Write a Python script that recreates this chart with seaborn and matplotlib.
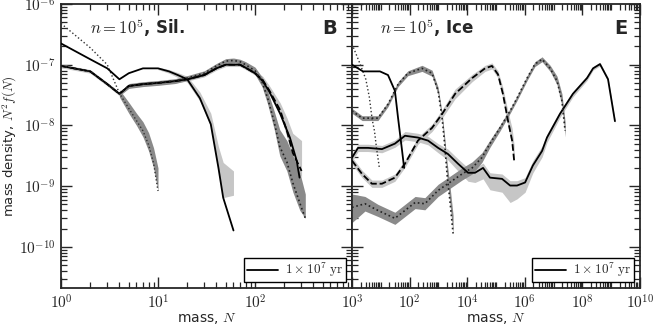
import numpy as np
import pandas as pd
import matplotlib
matplotlib.use("Agg")
import matplotlib.pyplot as plt
import seaborn as sns
from matplotlib.ticker import LogLocator, FixedLocator, FuncFormatter, NullFormatter

# ---------------- data (log10 of mass density) ----------------
# Left panel (silicates), mass N
s1_N = [1, 2, 3, 4, 5, 6, 7, 8, 9, 10]
s1_v = [-6.32, -6.72, -7.00, -7.47, -7.72, -7.92, -8.09, -8.32, -8.62, -9.08]
s1_hi = [0, 0, 0, 0.06, 0.10, 0.12, 0.15, 0.20, 0.25, 0.38]
s1_lo = [0, 0, 0, 0.06, 0.08, 0.08, 0.10, 0.10, 0.08, 0.00]

s2_N = [1, 2, 3, 4, 5, 7, 10, 13, 16, 20, 27, 35, 42, 47, 60]
s2_v = [-6.65, -6.91, -7.06, -7.24, -7.14, -7.06, -7.06, -7.11, -7.17, -7.24, -7.55, -7.98, -8.70, -9.19, -9.73]
s2_hi = [0, 0, 0, 0, 0, 0, 0.02, 0.03, 0.04, 0.05, 0.10, 0.18, 0.35, 0.58, 0.98]
s2_lo = [0, 0, 0, 0, 0, 0, 0.02, 0.03, 0.04, 0.05, 0.05, 0.04, 0.03, 0.00, -0.58]

peak_N = [1, 2, 3, 4, 5, 7, 10, 15, 20, 30, 40, 50, 60, 70, 80, 100]
peak_v = [-7.02, -7.11, -7.32, -7.48, -7.35, -7.32, -7.30, -7.27, -7.24, -7.17, -7.06, -7.00, -7.00, -7.00, -7.05, -7.14]

c_N = [1, 2, 3, 4, 5, 7, 10, 15, 20, 30, 40, 50, 60, 70, 80, 100, 118, 135, 158, 180, 213, 246, 290, 330]
c_v = [-7.02, -7.11, -7.32, -7.48, -7.35, -7.32, -7.30, -7.27, -7.22, -7.14, -7.02, -6.94, -6.93, -6.95, -7.00, -7.10,
       -7.28, -7.55, -7.95, -8.35, -8.60, -8.95, -9.28, -9.53]
c_hi = [0, 0, 0, 0.03, 0.04, 0.04, 0.04, 0.04, 0.04, 0.04, 0.04, 0.04, 0.04, 0.04, 0.05, 0.06,
        0.08, 0.12, 0.18, 0.28, 0.35, 0.45, 0.50, 0.40]
c_lo = [0, 0, 0, 0.03, 0.04, 0.04, 0.04, 0.04, 0.04, 0.04, 0.04, 0.04, 0.04, 0.04, 0.05, 0.06,
        0.08, 0.10, 0.12, 0.15, 0.15, 0.15, 0.12, 0.00]

d_N = peak_N + [120, 139, 182, 229, 269, 288]
d_v = peak_v + [-7.27, -7.43, -7.81, -8.20, -8.58, -8.86]

e_N = peak_N + [120, 140, 182, 214, 245, 302]
e_v = peak_v + [-7.25, -7.42, -7.75, -8.10, -8.45, -8.75]
e_hi = [0.03] * 16 + [0.06, 0.08, 0.12, 0.22, 0.32, 0.50]
e_lo = [0.03] * 16 + [0.05, 0.06, 0.08, 0.10, 0.12, 0.10]

# Right panel (ice), log10 of mass N
r1_x = [0, 0.30, 0.48, 0.60, 0.70, 0.78, 0.85, 0.90, 0.95]
r1_v = [-6.66, -7.01, -7.24, -7.53, -7.90, -8.09, -8.37, -8.53, -8.70]

r2_x = [0, 0.38, 0.97, 1.25, 1.49, 1.60, 1.74, 1.81]
r2_v = [-7.00, -7.11, -7.11, -7.17, -7.43, -7.88, -8.42, -8.70]

r3_x = [0, 0.35, 0.90, 1.25, 1.60, 1.94, 2.43, 2.78, 2.99, 3.13, 3.23, 3.30, 3.40, 3.51]
r3_v = [-7.76, -7.88, -7.88, -7.65, -7.32, -7.14, -7.06, -7.14, -7.43, -7.88, -8.37, -8.80, -9.24, -9.78]
r3_hi = [0.04, 0.04, 0.04, 0.04, 0.04, 0.04, 0.05, 0.05, 0.06, 0.08, 0.12, 0.20, 0.25, 0.30]
r3_lo = [0.04, 0.04, 0.04, 0.04, 0.04, 0.04, 0.05, 0.05, 0.06, 0.06, 0.06, 0.06, 0.05, 0.00]

r4_x = [0, 0.35, 0.69, 1.04, 1.49, 1.84, 2.29, 2.78, 3.13, 3.58, 4.17, 4.62, 4.86, 5.07, 5.24, 5.42, 5.56, 5.63]
r4_v = [-8.58, -8.80, -8.96, -8.96, -8.86, -8.63, -8.25, -8.04, -7.81, -7.48, -7.22, -7.06, -7.02, -7.16, -7.48,
        -7.93, -8.25, -8.58]
r4_hi = [0.06, 0.06, 0.06, 0.06, 0.06, 0.06, 0.06, 0.06, 0.07, 0.08, 0.06, 0.05, 0.05, 0.06, 0.10, 0.15, 0.20, 0.25]
r4_lo = [0.06, 0.06, 0.06, 0.06, 0.06, 0.06, 0.06, 0.06, 0.07, 0.08, 0.06, 0.05, 0.05, 0.06, 0.08, 0.10, 0.10, 0.00]

r5_x = [0, 0.21, 0.56, 1.04, 1.49, 1.84, 2.29, 2.64, 2.99, 3.33, 3.68, 4.03, 4.27, 4.55, 4.79, 5.21, 5.49, 5.73,
        6.01, 6.28, 6.60, 6.77, 7.22, 7.67, 8.16, 8.37, 8.61, 8.89, 9.13]
r5_v = [-8.53, -8.37, -8.37, -8.39, -8.30, -8.17, -8.20, -8.25, -8.37, -8.47, -8.63, -8.78, -8.78, -8.70, -8.86,
        -8.88, -8.99, -8.99, -8.94, -8.66, -8.42, -8.20, -7.81, -7.48, -7.22, -7.06, -6.99, -7.24, -7.93]
r5_hi = [0.06, 0.06, 0.06, 0.06, 0.06, 0.07, 0.07, 0.07, 0.07, 0.08, 0.08, 0.08, 0.08, 0.08, 0.08,
         0.08, 0.08, 0.08, 0.08, 0.08, 0.08, 0.06, 0.05, 0.04, 0.04, 0.03, 0.03, 0.03, 0.03]
r5_lo = [0.06, 0.06, 0.06, 0.06, 0.06, 0.07, 0.07, 0.07, 0.08, 0.10, 0.12, 0.14, 0.16, 0.18, 0.20,
         0.22, 0.28, 0.22, 0.16, 0.12, 0.10, 0.08, 0.06, 0.05, 0.04, 0.03, 0.03, 0.03, 0.03]

r6_x = [0, 0.45, 0.90, 1.49, 1.84, 2.19, 2.53, 2.99, 3.33, 3.82, 4.17, 4.51, 4.79, 5.14, 5.49, 5.73, 6.08, 6.35,
        6.60, 6.88, 7.12, 7.29, 7.40]
r6_v = [-9.35, -9.29, -9.40, -9.53, -9.40, -9.27, -9.29, -9.07, -8.96, -8.80, -8.70, -8.53, -8.30, -8.04, -7.76,
        -7.55, -7.22, -6.99, -6.91, -7.06, -7.27, -7.60, -8.09]
r6_hi = [0.22, 0.12, 0.10, 0.10, 0.10, 0.10, 0.10, 0.10, 0.10, 0.10, 0.10, 0.08, 0.06, 0.05, 0.04, 0.04, 0.04,
         0.04, 0.04, 0.05, 0.08, 0.12, 0.15]
r6_lo = [0.25, 0.12, 0.10, 0.10, 0.10, 0.10, 0.10, 0.10, 0.10, 0.10, 0.10, 0.08, 0.06, 0.05, 0.04, 0.04, 0.04,
         0.04, 0.04, 0.05, 0.06, 0.08, 0.10]

y_ticks = [1e-10, 1e-9, 1e-8, 1e-7, 1e-6]
xL_ticks = [1e0, 1e1, 1e2, 1e3]
xR_ticks = [1e0, 1e2, 1e4, 1e6, 1e8, 1e10]

legend_label = r"$1\times10^{7}\ \mathrm{yr}$"
left_title = r"$n=\mathbf{10^5}$, Sil."
right_title = r"$n=\mathbf{10^5}$, Ice"

# ---------------- style ----------------
sns.set_style("ticks")
plt.rcParams['font.family'] = ['DejaVu Sans']
plt.rcParams['mathtext.fontset'] = 'cm'
plt.rcParams['axes.linewidth'] = 1.3

DARK = '#8a8a8a'
LIGHT = '#c6c6c6'

fig = plt.figure(figsize=(6.54, 3.27), dpi=100)
axL = fig.add_axes([61 / 654, 1 - 288 / 327, 291 / 654, 284 / 327])
axR = fig.add_axes([352 / 654, 1 - 288 / 327, 288 / 654, 284 / 327])


def band(ax, x, v, lo, hi, color):
    x = np.asarray(x, float)
    v = np.asarray(v, float)
    lo = np.asarray(lo, float)
    hi = np.asarray(hi, float)
    idx = np.where((lo + hi) > 0)[0]
    if len(idx) == 0:
        return
    s = idx[0]
    ax.fill_between(x[s:], 10 ** (v[s:] - lo[s:]), 10 ** (v[s:] + hi[s:]), color=color, lw=0, zorder=1)


def line(ax, x, v, ls='-', lw=1.2, color='black', label=None, z=3):
    df = pd.DataFrame({'x': np.asarray(x, float), 'y': 10 ** np.asarray(v, float)})
    sns.lineplot(data=df, x='x', y='y', ax=ax, linestyle=ls, lw=lw, color=color,
                 sort=False, estimator=None, label=label, zorder=z, legend=False)


for ax in (axL, axR):
    ax.set_xscale('log')
    ax.set_yscale('log')

# ---- left panel ----
band(axL, s1_N, s1_v, s1_lo, s1_hi, DARK)
band(axL, s2_N, s2_v, s2_lo, s2_hi, LIGHT)
band(axL, e_N, e_v, e_lo, e_hi, LIGHT)
band(axL, c_N, c_v, c_lo, c_hi, DARK)
line(axL, s1_N, s1_v, ls=':', lw=1.0, color='#333333')
line(axL, s2_N, s2_v, ls='-', lw=1.3, label=legend_label)
line(axL, d_N, d_v, ls='-', lw=1.3)
line(axL, e_N, e_v, ls='--', lw=1.3)
line(axL, c_N, c_v, ls=':', lw=1.2, color='#222222')

# ---- right panel ----
rx = lambda a: 10 ** np.asarray(a, float)
band(axR, rx(r3_x), r3_v, r3_lo, r3_hi, DARK)
band(axR, rx(r4_x), r4_v, r4_lo, r4_hi, LIGHT)
band(axR, rx(r5_x), r5_v, r5_lo, r5_hi, LIGHT)
band(axR, rx(r6_x), r6_v, r6_lo, r6_hi, DARK)
line(axR, rx(r1_x), r1_v, ls=':', lw=1.0, color='#333333')
line(axR, rx(r2_x), r2_v, ls='-', lw=1.3)
line(axR, rx(r3_x), r3_v, ls=':', lw=1.2, color='#222222')
line(axR, rx(r4_x), r4_v, ls='--', lw=1.3)
line(axR, rx(r5_x), r5_v, ls='-', lw=1.3, label=legend_label)
line(axR, rx(r6_x), r6_v, ls=':', lw=1.2, color='#222222')

# ---- axes formatting ----
pow_fmt = FuncFormatter(lambda v, p: r"$10^{%d}$" % int(round(np.log10(v))))
for ax in (axL, axR):
    ax.set_ylim(2.1e-11, 1e-6)
    ax.yaxis.set_major_locator(FixedLocator(y_ticks))
    ax.yaxis.set_minor_locator(LogLocator(base=10, subs=np.arange(2, 10), numticks=100))
    ax.yaxis.set_minor_formatter(NullFormatter())
    ax.tick_params(which='both', direction='in', top=True, right=True, labelsize=11)
    ax.tick_params(which='major', length=8, width=1.0, pad=4)
    ax.tick_params(which='minor', length=4, width=0.9)
    ax.set_xlabel(r"mass, $N$", fontsize=10)
    ax.xaxis.set_label_coords(0.5, -0.08)
    ax.set_ylabel("")

axL.set_xlim(1, 1e3)
axL.xaxis.set_major_locator(FixedLocator(xL_ticks))
axL.xaxis.set_minor_locator(LogLocator(base=10, subs=np.arange(2, 10), numticks=100))
axL.xaxis.set_minor_formatter(NullFormatter())
axL.xaxis.set_major_formatter(pow_fmt)
axL.yaxis.set_major_formatter(pow_fmt)
axL.set_ylabel(r"mass density, $N^2 f(N)$", fontsize=9.5)
axL.yaxis.set_label_coords(-0.145, 0.5)

axR.set_xlim(1, 1e10)
axR.xaxis.set_major_locator(FixedLocator(xR_ticks))
axR.xaxis.set_minor_locator(LogLocator(base=10, subs=np.arange(1, 10), numticks=100))
axR.xaxis.set_minor_formatter(NullFormatter())
axR.xaxis.set_major_formatter(FuncFormatter(
    lambda v, p: "" if v < 10 else r"$10^{%d}$" % int(round(np.log10(v)))))
axR.tick_params(labelleft=False)

# ---- texts ----
axL.text(0.10, 0.915, left_title, transform=axL.transAxes, fontsize=12, fontweight='bold', va='center')
axR.text(0.097, 0.915, right_title, transform=axR.transAxes, fontsize=12, fontweight='bold', va='center')
axL.text(0.95, 0.915, "B", transform=axL.transAxes, fontsize=14, fontweight='bold', ha='right', va='center')
axR.text(0.955, 0.915, "E", transform=axR.transAxes, fontsize=14, fontweight='bold', ha='right', va='center')

for ax in (axL, axR):
    leg = ax.legend(loc='lower right', fontsize=9.5, frameon=True, fancybox=False, framealpha=1,
                    edgecolor='black', handlelength=2.4, borderaxespad=0.45, borderpad=0.2,
                    handletextpad=0.5)
    leg.get_frame().set_linewidth(1.0)

fig.savefig("out.png", dpi=100)
